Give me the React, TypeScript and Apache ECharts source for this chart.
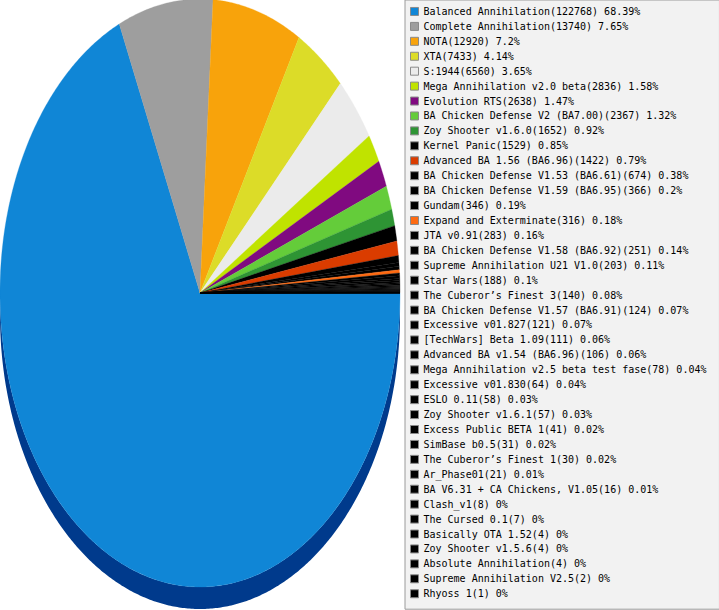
import React, { useEffect, useRef } from "react";
import * as echarts from "echarts";

const names: string[] = [
  "Balanced Annihilation",
  "Complete Annihilation",
  "NOTA",
  "XTA",
  "S:1944",
  "Mega Annihilation v2.0 beta",
  "Evolution RTS",
  "BA Chicken Defense V2 (BA7.00)",
  "Zoy Shooter v1.6.0",
  "Kernel Panic",
  "Advanced BA 1.56 (BA6.96)",
  "BA Chicken Defense V1.53 (BA6.61)",
  "BA Chicken Defense V1.59 (BA6.95)",
  "Gundam",
  "Expand and Exterminate",
  "JTA v0.91",
  "BA Chicken Defense V1.58 (BA6.92)",
  "Supreme Annihilation U21 V1.0",
  "Star Wars",
  "The Cuberor’s Finest 3",
  "BA Chicken Defense V1.57 (BA6.91)",
  "Excessive v01.827",
  "[TechWars] Beta 1.09",
  "Advanced BA v1.54 (BA6.96)",
  "Mega Annihilation v2.5 beta test fase",
  "Excessive v01.830",
  "ESLO 0.11",
  "Zoy Shooter v1.6.1",
  "Excess Public BETA 1",
  "SimBase b0.5",
  "The Cuberor’s Finest 1",
  "Ar_Phase01",
  "BA V6.31 + CA Chickens, V1.05",
  "Clash_v1",
  "The Cursed 0.1",
  "Basically OTA 1.52",
  "Zoy Shooter v1.5.6",
  "Absolute Annihilation",
  "Supreme Annihilation V2.5",
  "Rhyoss 1",
];

const values: number[] = [
  122768, 13740, 12920, 7433, 6560, 2836, 2638, 2367, 1652, 1529, 1422, 674,
  366, 346, 316, 283, 251, 203, 188, 140, 124, 121, 111, 106, 78, 64, 58, 57,
  41, 31, 30, 21, 16, 8, 7, 4, 4, 4, 2, 1,
];

const colors: string[] = [
  "#1086d6", "#9e9e9e", "#f8a30b", "#dcdc28", "#ebebeb", "#c0e300", "#800a80",
  "#64cc3a", "#2e9434", "#000000", "#da3c00", "#000000", "#000000", "#000000",
  "#fe6a12", "#000000", "#000000", "#000000", "#000000", "#000000", "#000000",
  "#000000", "#000000", "#000000", "#000000", "#000000", "#000000", "#000000",
  "#000000", "#000000", "#000000", "#000000", "#000000", "#000000", "#000000",
  "#000000", "#000000", "#000000", "#000000", "#000000",
];

const total = values.reduce((a, b) => a + b, 0);
const starts = values.map((_, i) => values.slice(0, i).reduce((a, b) => a + b, 0));

const CX = 200;
const CY = 293;
const RX = 200;
const RY = 294;
const DEPTH = 22;
const SIDE_COLOR = "#003a8c";

function arc(a0: number, a1: number, dy: number): number[][] {
  const pts: number[][] = [];
  const n = Math.max(2, Math.ceil(Math.abs(a1 - a0) / (Math.PI / 360)));
  for (let k = 0; k <= n; k++) {
    const a = a0 + ((a1 - a0) * k) / n;
    pts.push([CX + RX * Math.cos(a), CY + dy + RY * Math.sin(a)]);
  }
  return pts;
}

function pct(v: number): string {
  return String(+((v / total) * 100).toFixed(2));
}

export default function App() {
  const ref = useRef<HTMLDivElement>(null);
  useEffect(() => {
    if (!ref.current) return;
    const chart = echarts.init(ref.current, null, { renderer: "svg" });
    const series = names.map((name, i) => ({
      type: "custom",
      name,
      coordinateSystem: "none",
      silent: true,
      data: [values[i]],
      itemStyle: { color: colors[i] },
      renderItem: (params: any, api: any) => {
        const v = api.value(0) as number;
        const a0 = (starts[i] / total) * 2 * Math.PI;
        const a1 = a0 + (v / total) * 2 * Math.PI;
        const children: any[] = [];
        const s = Math.max(a0, 0);
        const e = Math.min(a1, Math.PI);
        if (e > s) {
          const top = arc(s, e, 0);
          const bottom = arc(e, s, DEPTH);
          children.push({
            type: "polygon",
            shape: { points: top.concat(bottom) },
            style: { fill: SIDE_COLOR },
          });
        }
        children.push({
          type: "polygon",
          shape: { points: [[CX, CY]].concat(arc(a0, a1, 0)) },
          style: { fill: api.visual("color"), stroke: api.visual("color"), lineWidth: 0.3 },
        });
        return { type: "group", children };
      },
    }));
    chart.setOption({
      animation: false,
      backgroundColor: "#ffffff",
      legend: {
        orient: "vertical",
        left: 405,
        top: 0,
        data: names,
        icon: "rect",
        itemWidth: 8,
        itemHeight: 8,
        itemGap: 0,
        selectedMode: false,
        itemStyle: { borderColor: "#8a8a8a", borderWidth: 1 },
        backgroundColor: "#f2f2f2",
        borderColor: "#9a9a9a",
        borderWidth: 1,
        padding: [4, 13, 8, 5],
        textStyle: {
          fontFamily: "DejaVu Sans Mono",
          fontSize: 10,
          color: "#000000",
          lineHeight: 14.93,
        },
        formatter: (name: string) => {
          const i = names.indexOf(name);
          return `${name}(${values[i]}) ${pct(values[i])}%`;
        },
      },
      series,
    } as any);
    return () => chart.dispose();
  }, []);
  return (
    <div
      ref={ref}
      style={{ position: "absolute", left: 0, top: 0, width: 719, height: 610 }}
    />
  );
}
